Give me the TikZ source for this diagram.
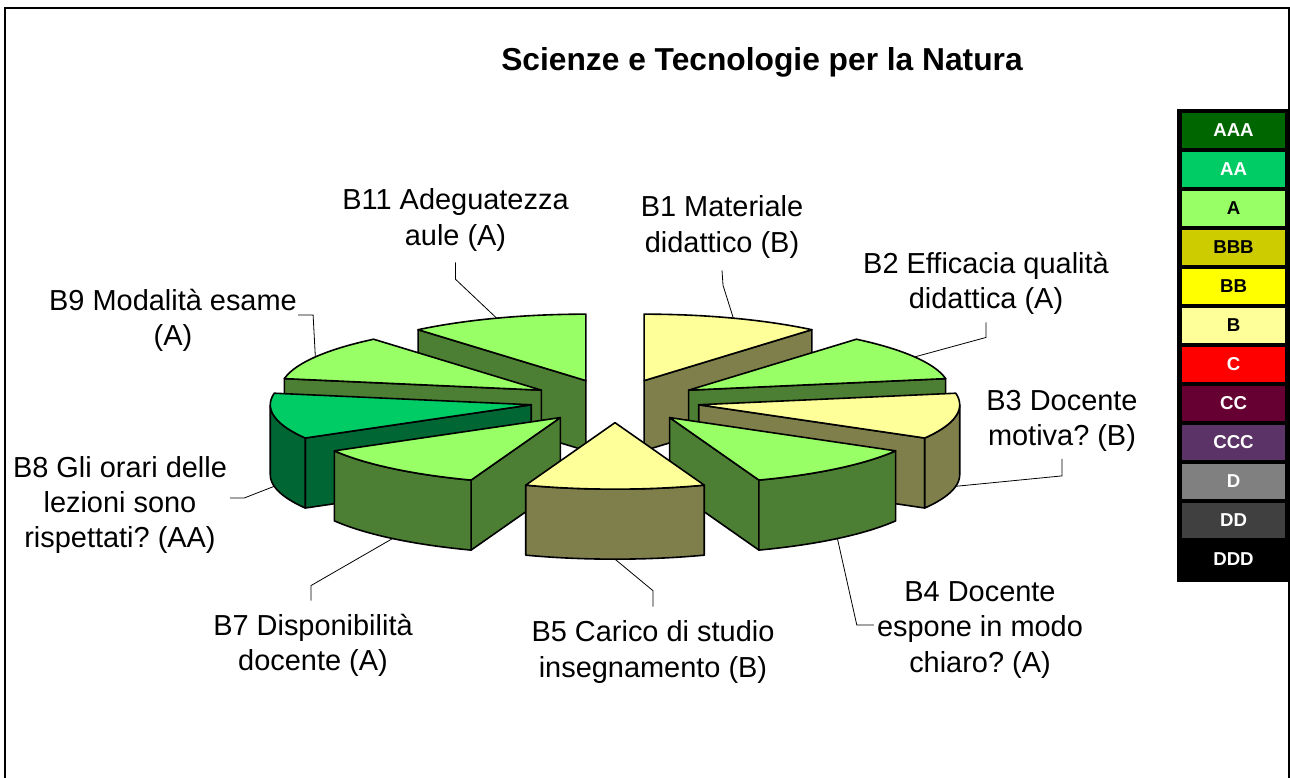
\documentclass[tikz,border=0pt]{standalone}
\usepackage{fontspec}
\setmainfont{Liberation Sans}
\frenchspacing
\definecolor{Atop}{HTML}{99FF66}
\definecolor{Aside}{HTML}{4C7F33}
\definecolor{Btop}{HTML}{FFFF99}
\definecolor{Bside}{HTML}{7F7F4C}
\definecolor{AAtop}{HTML}{00CC66}
\definecolor{AAside}{HTML}{006633}
\definecolor{LAAA}{HTML}{006600}
\definecolor{LAA}{HTML}{00CC66}
\definecolor{LA}{HTML}{99FF66}
\definecolor{LBBB}{HTML}{CCCC00}
\definecolor{LBB}{HTML}{FFFF00}
\definecolor{LB}{HTML}{FFFF99}
\definecolor{LC}{HTML}{FF0000}
\definecolor{LCC}{HTML}{660033}
\definecolor{LCCC}{HTML}{5C3366}
\definecolor{LD}{HTML}{808080}
\definecolor{LDD}{HTML}{404040}
\definecolor{LDDD}{HTML}{000000}
\tikzset{
  edge/.style={draw=black, line width=1.2pt, line join=round},
  leader/.style={draw=black, line width=0.6pt},
  lbl/.style={font=\fontsize{21.7}{26.3}\selectfont, align=center, inner sep=0pt},
  legbox/.style={minimum width=77.25pt, minimum height=26.25pt, inner sep=0pt,
    font=\fontsize{14}{16}\bfseries\selectfont},
  ttl/.style={font=\fontsize{23.8}{28}\bfseries\selectfont, inner sep=0pt},
}
% #1 start angle, #2 end angle (clockwise from 12 o'clock), #3 top colour, #4 side colour, #5 name
\newcommand{\pieslice}[5]{%
  \pgfmathsetmacro{\slm}{(#1+#2)/2}%
  \pgfmathsetmacro{\sltx}{615+85*sin(\slm)}%
  \pgfmathsetmacro{\slty}{401-21.66*cos(\slm)}%
  \pgfmathsetmacro{\slax}{\sltx+261*sin(#1)}%
  \pgfmathsetmacro{\slay}{\slty-66.5*cos(#1)}%
  \pgfmathsetmacro{\slbx}{\sltx+261*sin(#2)}%
  \pgfmathsetmacro{\slby}{\slty-66.5*cos(#2)}%
  \pgfmathtruncatemacro{\slva}{sin(#1)<-0.01 ? 1 : 0}%
  \pgfmathtruncatemacro{\slvb}{sin(#2)>0.01 ? 1 : 0}%
  \pgfmathsetmacro{\slS}{max(#1,90)}%
  \pgfmathsetmacro{\slE}{min(#2,270)}%
  \pgfmathtruncatemacro{\slvo}{\slE>\slS+0.5 ? 1 : 0}%
  \ifnum\slva=1
    \path[edge, fill=#4] (\sltx,\slty) -- (\slax,\slay) -- (\slax,\slay+70) -- (\sltx,\slty+70) -- cycle;
  \fi
  \ifnum\slvb=1
    \path[edge, fill=#4] (\sltx,\slty) -- (\slbx,\slby) -- (\slbx,\slby+70) -- (\sltx,\slty+70) -- cycle;
  \fi
  \ifnum\slvo=1
    \path[edge, fill=#4] plot[variable=\u, domain=\slS:\slE, samples=30] ({\sltx+261*sin(\u)}, {\slty-66.5*cos(\u)})
      -- plot[variable=\u, domain=\slE:\slS, samples=30] ({\sltx+261*sin(\u)}, {\slty-66.5*cos(\u)+70}) -- cycle;
  \fi
  \path[edge, fill=#3] (\sltx,\slty) -- plot[variable=\u, domain=#1:#2, samples=30] ({\sltx+261*sin(\u)}, {\slty-66.5*cos(\u)}) -- cycle;
  \coordinate (m#5) at ({\sltx+261*sin(\slm)}, {\slty-66.5*cos(\slm)});
  \coordinate (d#5) at ({\sltx+261*sin(\slm)}, {\slty-66.5*cos(\slm)+70});
}
\begin{document}
\begin{tikzpicture}[x=0.75pt, y=-0.75pt]
\useasboundingbox (0,0) rectangle (1290,778);
\fill[white] (0,0) rectangle (1290,778);
\draw[line width=1.6pt] (5,778) -- (5,8) -- (1289,8) -- (1289,778);

\node[ttl] (title) at (762,62) {Scienze e Tecnologie per la Natura};

% pie slices, back to front
\pieslice{0}{40}{Btop}{Bside}{B1}
\pieslice{320}{360}{Atop}{Aside}{B11}
\pieslice{40}{80}{Atop}{Aside}{B2}
\pieslice{280}{320}{Atop}{Aside}{B9}
\pieslice{80}{120}{Btop}{Bside}{B3}
\pieslice{240}{280}{AAtop}{AAside}{B8}
\pieslice{120}{160}{Atop}{Aside}{B4}
\pieslice{200}{240}{Atop}{Aside}{B7}
\pieslice{160}{200}{Btop}{Bside}{B5}

% labels
\node[lbl] (lB11) at (455.5,220) {B11 Adeguatezza\\aule (A)};
\node[lbl] (lB1) at (722,227) {B1 Materiale\\didattico (B)};
\node[lbl] (lB2) at (986,283) {B2 Efficacia qualità\\didattica (A)};
\node[lbl] (lB3) at (1062,421) {B3 Docente\\motiva? (B)};
\node[lbl] (lB4) at (980,630) {B4 Docente\\espone in modo\\chiaro? (A)};
\node[lbl] (lB5) at (653,652) {B5 Carico di studio\\insegnamento (B)};
\node[lbl] (lB7) at (313,645) {B7 Disponibilità\\docente (A)};
\node[lbl] (lB8) at (120,505) {B8 Gli orari delle\\lezioni sono\\rispettati? (AA)};
\node[lbl] (lB9) at (173,320) {B9 Modalità esame\\(A)};

% leader lines
\draw[leader] (lB11.south) ++(0,11) -- ++(0,17) -- (mB11);
\draw[leader] (lB1.south) ++(0,12) -- ++(1,15) -- (mB1);
\draw[leader] (lB2.south) ++(0,8) -- ++(0,15) -- (mB2);
\draw[leader] (lB3.south) ++(0,7) -- ++(0,17) -- (dB3);
\draw[leader] (lB4.west) ++(-3,-5) -- ++(-17,0) -- (dB4);
\draw[leader] (lB5.north) ++(0,-14) -- ++(0,-16) -- (dB5);
\draw[leader] (lB7.north) ++(-2,-13) -- ++(0,-15) -- (dB7);
\draw[leader] (lB8.east) ++(3,-7) -- ++(14,0) -- (dB8);
\draw[leader] (lB9.east) ++(1,-5) -- ++(15,0) -- (mB9);

% legend
\fill[black] (1177,109) rectangle (1289,582);
\node[legbox, fill=LAAA, text=white] (kAAA) at (1233.5,130.5) {AAA};
\node[legbox, fill=LAA, text=white] (kAA) at (1233.5,169.5) {AA};
\node[legbox, fill=LA, text=black] (kA) at (1233.5,208.5) {A};
\node[legbox, fill=LBBB, text=black] (kBBB) at (1233.5,247.5) {BBB};
\node[legbox, fill=LBB, text=black] (kBB) at (1233.5,286.5) {BB};
\node[legbox, fill=LB, text=black] (kB) at (1233.5,325.5) {B};
\node[legbox, fill=LC, text=white] (kC) at (1233.5,364.5) {C};
\node[legbox, fill=LCC, text=white] (kCC) at (1233.5,403.5) {CC};
\node[legbox, fill=LCCC, text=white] (kCCC) at (1233.5,442.5) {CCC};
\node[legbox, fill=LD, text=white] (kD) at (1233.5,481.5) {D};
\node[legbox, fill=LDD, text=white] (kDD) at (1233.5,520.5) {DD};
\node[legbox, fill=LDDD, text=white] (kDDD) at (1233.5,559.5) {DDD};
\end{tikzpicture}
\end{document}
